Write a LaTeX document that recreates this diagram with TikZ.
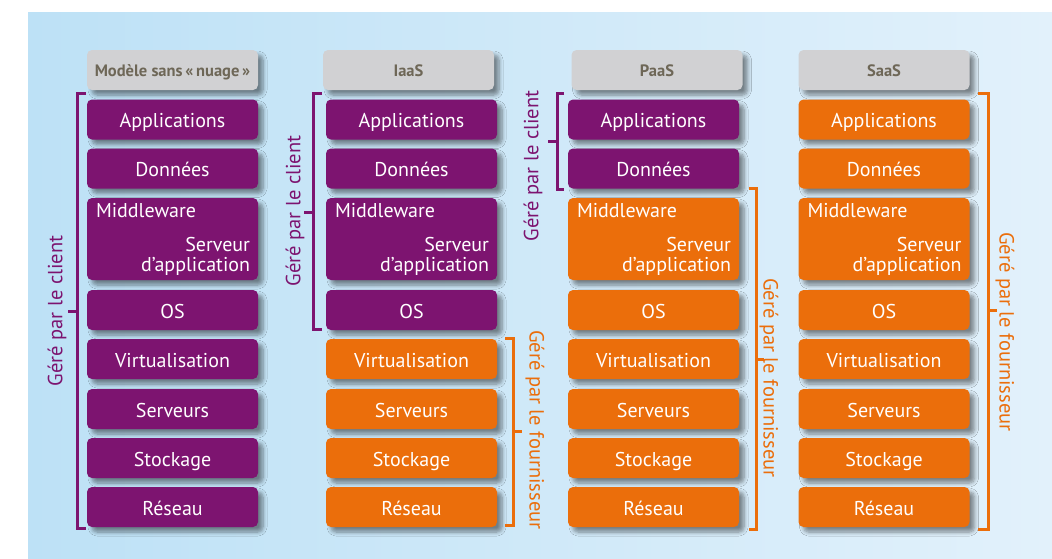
\documentclass[tikz,border=0pt]{standalone}
\usepackage{fontspec}
\setmainfont{PT Sans}
\usetikzlibrary{shadows.blur}
\usepackage{xcolor}

\definecolor{clientcol}{HTML}{7D1470}
\definecolor{provcol}{HTML}{EB6E0B}
\definecolor{headcol}{HTML}{D1D1D3}
\definecolor{headtext}{HTML}{6E6757}
\definecolor{bgleft}{HTML}{BDE1F6}
\definecolor{bgright}{HTML}{E2F1FB}

\tikzset{
    layer/.style={rounded corners=5pt, minimum width=171pt, minimum height=40pt, inner sep=0pt,
        text height=16.5pt, text depth=0pt,
        text=white, font=\fontsize{20}{20}\selectfont,
        blur shadow={shadow xshift=5pt, shadow yshift=-5pt, shadow blur steps=6, shadow opacity=45, shadow blur radius=4pt}},
    client/.style={layer, fill=clientcol},
    prov/.style={layer, fill=provcol},
    head/.style={layer, fill=headcol, text=headtext, text height=13pt, font=\fontsize{16.5}{18}\selectfont\bfseries},
    mwtop/.style={anchor=north west, text=white, font=\fontsize{20}{20}\selectfont, inner sep=0pt, xshift=9pt, yshift=-5pt},
    mwbot/.style={anchor=south east, text=white, font=\fontsize{20}{20}\selectfont, inner sep=0pt, xshift=-8pt, yshift=5pt, align=right},
    cbrace/.style={clientcol, line width=3pt},
    pbrace/.style={provcol, line width=3pt},
    clabel/.style={text=clientcol, font=\fontsize{20.5}{20}\selectfont},
    plabel/.style={text=provcol, font=\fontsize{20.5}{20}\selectfont}
}

\begin{document}
\begin{tikzpicture}[x=1pt,y=-1pt]
    \useasboundingbox (0,0) rectangle (1052,558);

    % background
    \shade[left color=bgleft, right color=bgright] (28,12) rectangle (1052,558);

    % headers
    \node[head] (hdr1) at (172.5,70) {Modèle sans\,«\,nuage\,»};
    \node[head] (hdr2) at (408.5,70) {IaaS};
    \node[head] (hdr3) at (657,70) {PaaS};
    \node[head] (hdr4) at (884,70) {SaaS};

    % modele sans nuage
    \node[client] (app1) at (172.5,119.5) {Applications};
    \node[client] (don1) at (172.5,168.5) {Données};
    \node[client, minimum height=82pt,
        label={[mwtop]north west:Middleware},
        label={[mwbot]south east:Serveur\\d’application}] (mid1) at (172.5,239) {};
    \node[client] (os1) at (172.5,310) {OS};
    \node[client] (virt1) at (172.5,359) {Virtualisation};
    \node[client] (serv1) at (172.5,409) {Serveurs};
    \node[client] (stock1) at (172.5,458) {Stockage};
    \node[client] (res1) at (172.5,507) {Réseau};

    % IaaS
    \node[client] (app2) at (411.5,119.5) {Applications};
    \node[client] (don2) at (411.5,168.5) {Données};
    \node[client, minimum height=82pt,
        label={[mwtop]north west:Middleware},
        label={[mwbot]south east:Serveur\\d’application}] (mid2) at (411.5,239) {};
    \node[client] (os2) at (411.5,310) {OS};
    \node[prov] (virt2) at (411.5,359) {Virtualisation};
    \node[prov] (serv2) at (411.5,409) {Serveurs};
    \node[prov] (stock2) at (411.5,458) {Stockage};
    \node[prov] (res2) at (411.5,507) {Réseau};

    % PaaS
    \node[client] (app3) at (653.5,119.5) {Applications};
    \node[client] (don3) at (653.5,168.5) {Données};
    \node[prov, minimum height=82pt,
        label={[mwtop]north west:Middleware},
        label={[mwbot]south east:Serveur\\d’application}] (mid3) at (653.5,239) {};
    \node[prov] (os3) at (653.5,310) {OS};
    \node[prov] (virt3) at (653.5,359) {Virtualisation};
    \node[prov] (serv3) at (653.5,409) {Serveurs};
    \node[prov] (stock3) at (653.5,458) {Stockage};
    \node[prov] (res3) at (653.5,507) {Réseau};

    % SaaS
    \node[prov] (app4) at (884,119.5) {Applications};
    \node[prov] (don4) at (884,168.5) {Données};
    \node[prov, minimum height=82pt,
        label={[mwtop]north west:Middleware},
        label={[mwbot]south east:Serveur\\d’application}] (mid4) at (884,239) {};
    \node[prov] (os4) at (884,310) {OS};
    \node[prov] (virt4) at (884,359) {Virtualisation};
    \node[prov] (serv4) at (884,409) {Serveurs};
    \node[prov] (stock4) at (884,458) {Stockage};
    \node[prov] (res4) at (884,507) {Réseau};

    % brackets client
    \draw[cbrace] (86,93) -- (77,93) -- (77,528) -- (86,528) (77,311) -- (68,311);
    \draw[cbrace] (322,93) -- (313,93) -- (313,329) -- (322,329) (313,212) -- (304,212);
    \draw[cbrace] (564,93) -- (557,93) -- (557,189) -- (564,189) (557,141) -- (548,141);

    % brackets fournisseur
    \draw[pbrace] (505,338) -- (513,338) -- (513,525) -- (505,525) (513,431) -- (522,431);
    \draw[pbrace] (749,188) -- (756,188) -- (756,529) -- (749,529) (756,359) -- (764,359);
    \draw[pbrace] (978,93) -- (988,93) -- (988,529) -- (978,529) (988,310) -- (997,310);

    % text at the brackets
    \node[clabel, rotate=90] (cl1) at (57,311) {Géré par le client};
    \node[clabel, rotate=90] (cl2) at (295,211) {Géré par le client};
    \node[clabel, rotate=90] (cl3) at (533,166) {Géré par le client};
    \node[plabel, rotate=-90] (pl2) at (535,430) {Géré par le fournisseur};
    \node[plabel, rotate=-90] (pl3) at (769,378) {Géré par le fournisseur};
    \node[plabel, rotate=-90] (pl4) at (1005,332) {Géré par le fournisseur};
\end{tikzpicture}
\end{document}
